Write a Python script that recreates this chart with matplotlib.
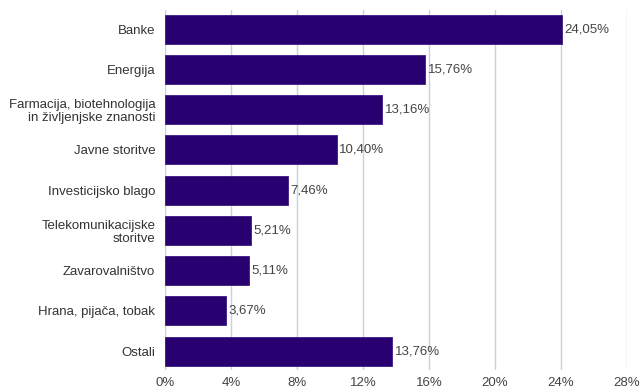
import matplotlib
matplotlib.use("Agg")
from matplotlib import pyplot as plt

# podatki
categories = ["Banke", "Energija", "Farmacija, biotehnologija\nin življenjske znanosti",
              "Javne storitve", "Investicijsko blago", "Telekomunikacijske\nstoritve",
              "Zavarovalništvo", "Hrana, pijača, tobak", "Ostali"]
values = [24.05, 15.76, 13.16, 10.40, 7.46, 5.21, 5.11, 3.67, 13.76]
xticks = [0, 4, 8, 12, 16, 20, 24, 28]

plt.rcParams['font.family'] = ['Liberation Sans', 'DejaVu Sans']

fig = plt.figure(figsize=(6.42, 3.9), dpi=100)
ax = fig.add_axes([0.257, 0.051, 0.7196, 0.923])

pos = list(range(len(categories)))
ax.barh(pos, values, height=0.72, color='#29006f', edgecolor='#3a1a85', linewidth=0.6, zorder=3)

for p, v in zip(pos, values):
    ax.text(v + 0.15, p, ("%.2f" % v).replace(".", ",") + "%", va='center', ha='left',
            fontsize=9.5, color='#444444', zorder=4)

ax.set_xlim(0, 28)
ax.set_ylim(len(categories) - 0.53, -0.47)
ax.set_xticks(xticks)
ax.set_xticklabels([str(t) + "%" for t in xticks], fontsize=9.5, color='#444444')
ax.set_yticks(pos)
ax.set_yticklabels(categories, fontsize=9.5, color='#333333', ha='right', linespacing=1.15)
ax.xaxis.grid(True, color='#c9d1de', linewidth=1, zorder=0)
ax.tick_params(length=0, pad=5)
ax.tick_params(axis='y', pad=7)
for s in ax.spines.values():
    s.set_visible(False)

plt.savefig("out.png", dpi=100)
